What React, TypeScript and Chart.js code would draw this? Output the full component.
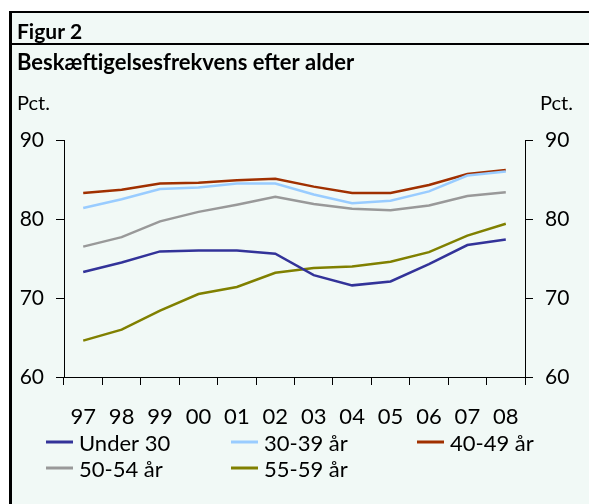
import { useEffect, useRef } from "react";
import { Chart, registerables } from "chart.js";

Chart.register(...registerables);

const years = ["97", "98", "99", "00", "01", "02", "03", "04", "05", "06", "07", "08"];
const under30 = [73.3, 74.5, 75.9, 76.0, 76.0, 75.6, 72.9, 71.6, 72.1, 74.3, 76.7, 77.4];
const age3039 = [81.4, 82.5, 83.8, 84.0, 84.5, 84.5, 83.1, 82.0, 82.3, 83.5, 85.5, 86.0];
const age4049 = [83.3, 83.7, 84.5, 84.6, 84.9, 85.1, 84.1, 83.3, 83.3, 84.3, 85.7, 86.2];
const age5054 = [76.5, 77.7, 79.7, 80.9, 81.8, 82.8, 81.9, 81.3, 81.1, 81.7, 82.9, 83.4];
const age5559 = [64.6, 66.0, 68.4, 70.5, 71.4, 73.2, 73.8, 74.0, 74.6, 75.8, 77.9, 79.4];
const seriesLabels = ["Under 30", "30-39 år", "40-49 år", "50-54 år", "55-59 år"];
const seriesColors = ["#333399", "#99ccff", "#a03000", "#999999", "#808000"];
const yMin = 60;
const yMax = 90;
const yStep = 10;
const figLabel = "Figur 2";
const titleText = "Beskæftigelsesfrekvens efter alder";
const unitText = "Pct.";

const FONT = "Lato";
const BG = "#f1f9f6";

const framePlugin = {
  id: "frame",
  beforeDraw(chart: any) {
    const ctx = chart.ctx;
    ctx.save();
    ctx.fillStyle = BG;
    ctx.fillRect(0, 0, chart.width, chart.height);
    ctx.restore();
  },
  afterDraw(chart: any) {
    const ctx = chart.ctx;
    const W = chart.width;
    const H = chart.height;
    ctx.save();
    // outer frame
    ctx.fillStyle = "#ffffff";
    ctx.fillRect(0, 0, W, 11);
    ctx.fillRect(0, 0, 9, H);
    ctx.fillStyle = "#000";
    ctx.fillRect(9, 11, 3, H - 11);
    ctx.fillRect(9, 11, W - 9, 2);
    ctx.fillRect(9, 43, W - 9, 2);
    // texts
    ctx.fillStyle = "#000";
    ctx.textBaseline = "alphabetic";
    ctx.textAlign = "left";
    ctx.font = `bold 21px ${FONT}`;
    ctx.fillText(figLabel, 17, 39);
    ctx.font = `bold 22px ${FONT}`;
    ctx.fillText(titleText, 17, 70);
    ctx.font = `20px ${FONT}`;
    ctx.fillText(unitText, 17, 110);
    ctx.textAlign = "right";
    ctx.fillText(unitText, 573, 110);
    // legend
    const colX = [46, 231, 417];
    const rowY = [442, 468];
    ctx.textAlign = "left";
    ctx.font = `22px ${FONT}`;
    chart.data.datasets.forEach((ds: any, i: number) => {
      const x0 = colX[i % 3];
      const y0 = rowY[Math.floor(i / 3)];
      ctx.strokeStyle = ds.borderColor;
      ctx.lineWidth = 3;
      ctx.beginPath();
      ctx.moveTo(x0, y0);
      ctx.lineTo(x0 + 27, y0);
      ctx.stroke();
      ctx.fillStyle = "#000";
      ctx.fillText(ds.label, x0 + 33, y0 + 9);
    });
    ctx.restore();
  },
};

export default function App() {
  const ref = useRef<HTMLCanvasElement | null>(null);
  useEffect(() => {
    if (!ref.current) return;
    const series = [under30, age3039, age4049, age5054, age5559];
    const yAxis = (position: "left" | "right") => ({
      type: "linear" as const,
      position,
      min: yMin,
      max: yMax,
      afterFit: (s: any) => {
        s.width = 64;
      },
      ticks: {
        stepSize: yStep,
        color: "#000",
        font: { family: FONT, size: 21 },
        padding: 12,
      },
      grid: {
        display: true,
        drawOnChartArea: false,
        drawTicks: true,
        tickLength: 8,
        color: "#000",
        lineWidth: 1,
      },
      border: { display: true, color: "#000", width: 1 },
    });
    const chart = new Chart(ref.current, {
      type: "line",
      data: {
        labels: years,
        datasets: series.map((d, i) => ({
          label: seriesLabels[i],
          data: d,
          borderColor: seriesColors[i],
          backgroundColor: seriesColors[i],
          borderWidth: 2.5,
          pointRadius: 0,
          tension: 0,
          yAxisID: "y",
        })),
      },
      options: {
        animation: false,
        responsive: false,
        maintainAspectRatio: false,
        layout: { padding: { top: 140, left: 0, right: 0, bottom: 0 } },
        plugins: {
          legend: { display: false },
          tooltip: { enabled: false },
          title: { display: false },
        },
        scales: {
          x: {
            type: "category",
            offset: true,
            afterFit: (s: any) => {
              s.height = 127;
            },
            ticks: {
              color: "#000",
              font: { family: FONT, size: 22 },
              padding: 19,
              maxRotation: 0,
              autoSkip: false,
            },
            grid: {
              display: true,
              offset: true,
              drawOnChartArea: false,
              drawTicks: true,
              tickLength: 8,
              color: "#000",
              lineWidth: 1,
            },
            border: { display: true, color: "#000", width: 1 },
          },
          y: yAxis("left"),
          y2: yAxis("right"),
        },
      },
      plugins: [framePlugin],
    });
    return () => chart.destroy();
  }, []);
  return (
    <div style={{ position: "fixed", left: 0, top: 0, width: 589, height: 504 }}>
      <canvas ref={ref} width={589} height={504} style={{ width: 589, height: 504, display: "block" }} />
    </div>
  );
}
